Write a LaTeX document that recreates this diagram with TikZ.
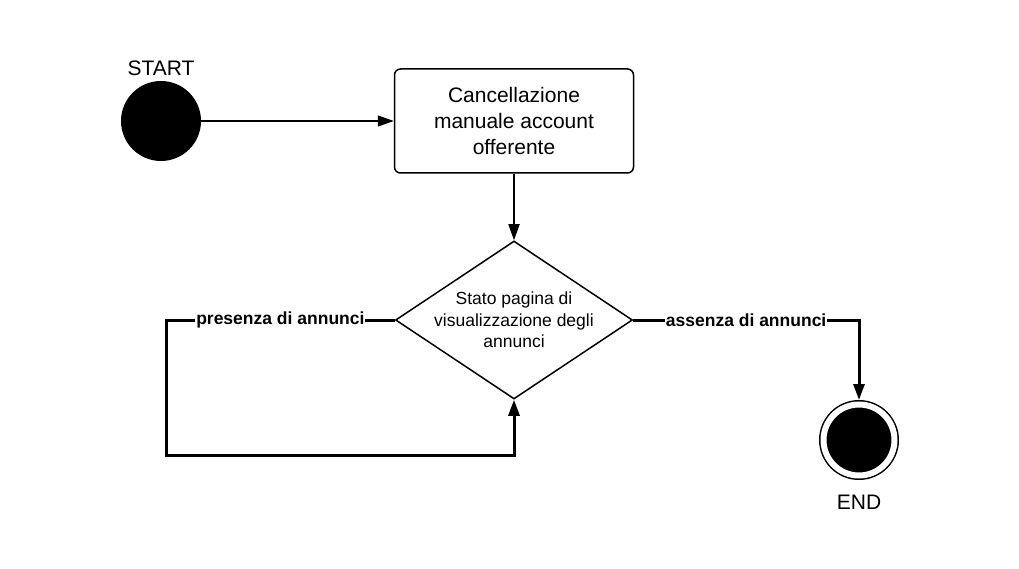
\documentclass[tikz,border=0pt]{standalone}
\usepackage{fontspec}
\setmainfont{Liberation Sans}
\usetikzlibrary{arrows.meta,shapes.geometric}

\begin{document}
\begin{tikzpicture}[
  x=1pt, y=-1pt,
  startdot/.style={circle, fill=black, minimum size=80pt, inner sep=0pt},
  enddot/.style={circle, draw=black, fill=black, line width=1.5pt, double=white,
                 double distance=6pt, minimum size=71pt, inner sep=0pt, outer sep=4.5pt},
  actbox/.style={draw, rounded corners=6pt, line width=1.5pt, minimum width=239pt,
                 minimum height=104pt, align=center, font=\fontsize{21}{26}\selectfont},
  choice/.style={diamond, aspect=1.5, draw, line width=1.5pt, minimum width=237pt,
                 minimum height=158pt, inner xsep=-14pt, inner ysep=0pt, align=center,
                 font=\fontsize{17.5}{21.5}\selectfont},
  lbl/.style={fill=white, inner sep=1pt, font=\fontsize{17.5}{21}\selectfont\bfseries},
  tag/.style={font=\fontsize{21}{25}\selectfont},
  tip/.style={-{Triangle[length=16pt, width=11pt]}}
]
  \useasboundingbox (0,0) rectangle (1019,569);

  \node[startdot] (start) at (161,121) {};
  \node[tag, above=0pt] (starttag) at (161,79) {START};
  \node[actbox] (cancel) at (514,121) {Cancellazione\\manuale account\\offerente};
  \node[choice] (stato) at (514,320) {Stato pagina di\\visualizzazione degli\\annunci};
  \node[enddot] (finale) at (859,440) {};
  \node[tag, below=0pt] (endtag) at (859,492) {END};
  \coordinate (loopL) at (166,455);

  \draw[tip, line width=1.2pt] (start.east) -- (cancel.west);
  \draw[tip, line width=1.8pt] (cancel.south) -- (stato.north);
  \draw[tip, line width=3pt] (stato.west) -| node[lbl, pos=0.25] {presenza di annunci} (loopL)
    -| (stato.south);
  \draw[tip, line width=3pt] (stato.east) -| node[lbl, pos=0.25] {assenza di annunci} (finale.north);
\end{tikzpicture}
\end{document}
